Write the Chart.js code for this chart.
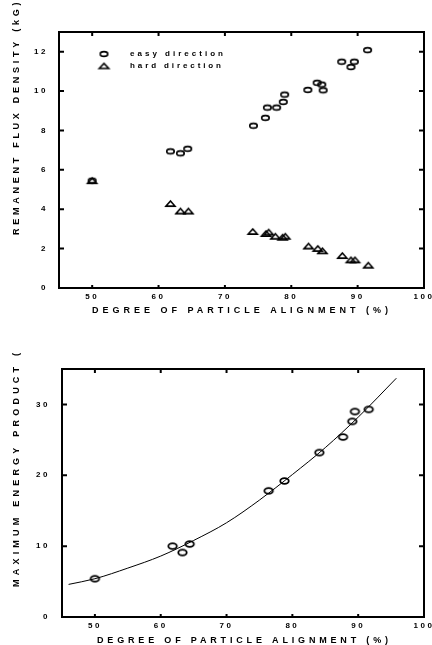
<!DOCTYPE html>
<html>
<head>
<meta charset="utf-8">
<script src="https://cdn.jsdelivr.net/npm/chart.js@4.4.0/dist/chart.umd.min.js"></script>
<style>
  html, body { margin: 0; padding: 0; background: #fff; }
  .wrap { position: relative; width: 432px; }
</style>
</head>
<body>
<div class="wrap" style="height:320px"><canvas id="remanence"></canvas></div>
<div class="wrap" style="height:325px"><canvas id="energy"></canvas></div>
<script>
// remanent flux density (kG) vs alignment (%)
var alignEasy = [50, 61.8, 63.3, 64.4, 74.3, 76.1, 76.4, 77.8, 78.8, 79.0, 82.5, 83.9, 84.6, 84.8, 87.6, 89.0, 89.5, 91.5];
var fluxEasy  = [5.45, 6.94, 6.84, 7.07, 8.24, 8.64, 9.16, 9.16, 9.45, 9.82, 10.06, 10.42, 10.33, 10.04, 11.49, 11.22, 11.49, 12.08];
var alignHard = [50, 61.8, 63.3, 64.5, 74.2, 76.2, 76.6, 77.6, 78.7, 79.1, 82.6, 84.0, 84.7, 87.7, 89.0, 89.6, 91.6];
var fluxHard  = [5.45, 4.29, 3.91, 3.91, 2.87, 2.77, 2.84, 2.63, 2.58, 2.63, 2.13, 2.01, 1.89, 1.65, 1.43, 1.43, 1.16];

// max energy product vs alignment, plus the hand drawn fit curve
var alignBH  = [50, 61.8, 63.3, 64.4, 76.4, 78.8, 84.1, 87.7, 89.1, 89.5, 91.6];
var energyBH = [5.4, 10.0, 9.1, 10.3, 17.8, 19.2, 23.2, 25.4, 27.6, 29.0, 29.3];
var fitAlign  = [46, 50, 55, 60, 65, 70, 75, 80, 85, 90, 95.8];
var fitEnergy = [4.6, 5.4, 6.9, 8.6, 10.8, 13.3, 16.5, 20.1, 23.9, 28.2, 33.7];

var xTicks = [50, 60, 70, 80, 90, 100];
var fluxTicks = [0, 2, 4, 6, 8, 10, 12];
var energyTicks = [0, 10, 20, 30];

var FONT = '"Liberation Sans", Arial, sans-serif';

function pairs(xs, ys) {
    return xs.map(function (x, i) { return { x: x, y: ys[i] }; });
}

// little open markers (the originals are squashed ovals / wide triangles)
function ovalMark(w, h, lw) {
    var c = document.createElement('canvas');
    c.width = Math.ceil(w + lw * 2 + 2);
    c.height = Math.ceil(h + lw * 2 + 2);
    var g = c.getContext('2d');
    g.lineWidth = lw;
    g.strokeStyle = '#000';
    g.beginPath();
    g.ellipse(c.width / 2, c.height / 2, w / 2, h / 2, 0, 0, Math.PI * 2);
    g.stroke();
    return c;
}

function triMark(w, h, lw) {
    var c = document.createElement('canvas');
    c.width = Math.ceil(w + lw * 2 + 2);
    c.height = Math.ceil(h + lw * 2 + 2);
    var g = c.getContext('2d');
    var cx = c.width / 2, cy = c.height / 2;
    g.lineWidth = lw;
    g.lineJoin = 'miter';
    g.strokeStyle = '#000';
    g.beginPath();
    g.moveTo(cx - w / 2, cy + h / 2);
    g.lineTo(cx, cy - h / 2);
    g.lineTo(cx + w / 2, cy + h / 2);
    g.closePath();
    g.stroke();
    return c;
}

var ovalSmall = ovalMark(7.5, 4.8, 1.6);
var triSmall = triMark(9, 5.2, 1.6);
var ovalBig = ovalMark(8.5, 5.8, 1.8);

// draw text with letter spacing so that `fitPart` covers the span from a to b
function spacedText(ctx, text, fitPart, a, b, font) {
    ctx.font = font;
    ctx.letterSpacing = '0px';
    var w = ctx.measureText(fitPart).width;
    var sp = ((b - a) - w) / (fitPart.length - 1);
    ctx.letterSpacing = sp + 'px';
    ctx.textAlign = 'left';
    ctx.textBaseline = 'middle';
    ctx.fillText(text, a, 0);
}

// box around the plot with inward tick marks on all four sides
var framePlugin = {
    id: 'frame',
    beforeDraw: function (chart) {
        chart.ctx.letterSpacing = '2.5px';
    },
    beforeDatasetsDraw: function (chart) {
        var ctx = chart.ctx, a = chart.chartArea;
        var xs = chart.scales.x, ys = chart.scales.y;
        ctx.save();
        ctx.strokeStyle = '#000';
        ctx.lineWidth = 2;
        ctx.strokeRect(a.left, a.top, a.right - a.left, a.bottom - a.top);
        ctx.beginPath();
        xs.ticks.forEach(function (t) {
            var px = xs.getPixelForValue(t.value);
            ctx.moveTo(px, a.top); ctx.lineTo(px, a.top + 4);
            ctx.moveTo(px, a.bottom); ctx.lineTo(px, a.bottom - 3);
        });
        ys.ticks.forEach(function (t) {
            var py = ys.getPixelForValue(t.value);
            ctx.moveTo(a.left, py); ctx.lineTo(a.left + 5, py);
            ctx.moveTo(a.right, py); ctx.lineTo(a.right - 5, py);
        });
        ctx.stroke();
        ctx.restore();
    }
};

// spaced-out axis titles, like the typewriter lettering of the original
var titlePlugin = {
    id: 'titles',
    afterDraw: function (chart, args, opts) {
        var ctx = chart.ctx;
        var font = 'bold 9px ' + FONT;
        ctx.save();
        ctx.fillStyle = '#000';
        ctx.translate(0, opts.xTitleY);
        spacedText(ctx, opts.xTitle, opts.xTitle, opts.xTitleFrom, opts.xTitleTo, font);
        ctx.restore();

        ctx.save();
        ctx.beginPath();
        ctx.rect(0, opts.yClipTop, 30, chart.height);
        ctx.clip();
        ctx.fillStyle = '#000';
        ctx.translate(opts.yTitleX, 0);
        ctx.rotate(-Math.PI / 2);
        spacedText(ctx, opts.yTitle, opts.yTitleFit, -opts.yTitleFrom, -opts.yTitleTo, font);
        ctx.restore();
    }
};

// legend inside the plot, top left
var keyPlugin = {
    id: 'key',
    afterDatasetsDraw: function (chart, args, opts) {
        if (!opts.show) return;
        var ctx = chart.ctx;
        chart.data.datasets.forEach(function (ds, i) {
            var y = opts.top + i * opts.step;
            var img = opts.marks[i];
            ctx.drawImage(img, opts.markX - img.width / 2, y - img.height / 2);
            ctx.save();
            ctx.fillStyle = '#000';
            ctx.translate(0, y);
            spacedText(ctx, ds.label, ds.label, opts.textX, opts.textX + opts.textW[i], 'bold 8px ' + FONT);
            ctx.restore();
        });
    }
};

function axisTicks(list) {
    return function (scale) {
        scale.ticks = list.map(function (v) { return { value: v }; });
    };
}

var tickFont = { family: FONT, size: 8, weight: 'bold' };

function xScale() {
    return {
        type: 'linear',
        min: 45,
        max: 100,
        afterBuildTicks: axisTicks(xTicks),
        afterFit: function (s) { s.height = 12; s.paddingLeft = 0; s.paddingRight = 0; },
        grid: { display: false, drawTicks: false },
        border: { display: false },
        ticks: { color: '#000', font: tickFont, padding: 4, maxRotation: 0 }
    };
}

function yScale(max, list, width, pad) {
    return {
        type: 'linear',
        min: 0,
        max: max,
        afterBuildTicks: axisTicks(list),
        afterFit: function (s) { s.width = width; s.paddingTop = 0; s.paddingBottom = 0; },
        grid: { display: false, drawTicks: false },
        border: { display: false },
        ticks: { color: '#000', font: tickFont, padding: pad }
    };
}

new Chart(document.getElementById('remanence'), {
    type: 'scatter',
    data: {
        datasets: [
            {
                label: 'easy direction',
                data: pairs(alignEasy, fluxEasy),
                pointStyle: ovalSmall,
                pointRadius: 4
            },
            {
                label: 'hard direction',
                data: pairs(alignHard, fluxHard),
                pointStyle: triSmall,
                pointRadius: 4
            }
        ]
    },
    options: {
        responsive: true,
        maintainAspectRatio: false,
        animation: false,
        layout: { padding: { left: 26, top: 32, right: 8, bottom: 20 } },
        scales: {
            x: xScale(),
            y: yScale(13, fluxTicks, 33, 11)
        },
        plugins: {
            legend: { display: false },
            tooltip: { enabled: false },
            titles: {
                xTitle: 'DEGREE OF PARTICLE ALIGNMENT (%)',
                xTitleY: 311, xTitleFrom: 92, xTitleTo: 388,
                yTitle: 'REMANENT FLUX DENSITY (kG)',
                yTitleFit: 'REMANENT FLUX DENSITY (k',
                yTitleX: 17, yTitleFrom: 235, yTitleTo: 20, yClipTop: 0
            },
            key: {
                show: true,
                marks: [ovalSmall, triMark(9.5, 5, 1.6)],
                markX: 104, top: 54, step: 12,
                textX: 130, textW: [93, 91]
            }
        }
    },
    plugins: [framePlugin, titlePlugin, keyPlugin]
});

new Chart(document.getElementById('energy'), {
    type: 'scatter',
    data: {
        datasets: [
            {
                label: 'measured',
                data: pairs(alignBH, energyBH),
                pointStyle: ovalBig,
                pointRadius: 4
            },
            {
                type: 'line',
                label: 'fit',
                data: pairs(fitAlign, fitEnergy),
                showLine: true,
                borderColor: '#000',
                borderWidth: 1,
                pointRadius: 0,
                cubicInterpolationMode: 'monotone',
                fill: false
            }
        ]
    },
    options: {
        responsive: true,
        maintainAspectRatio: false,
        animation: false,
        layout: { padding: { left: 28, top: 49, right: 8, bottom: 16 } },
        scales: {
            x: xScale(),
            y: yScale(35, energyTicks, 34, 12)
        },
        plugins: {
            legend: { display: false },
            tooltip: { enabled: false },
            titles: {
                xTitle: 'DEGREE OF PARTICLE ALIGNMENT (%)',
                xTitleY: 320.5, xTitleFrom: 97, xTitleTo: 388,
                yTitle: 'MAXIMUM ENERGY PRODUCT (MGOe)',
                yTitleFit: 'MAXIMUM ENERGY PRODUCT (',
                yTitleX: 17, yTitleFrom: 267, yTitleTo: 33, yClipTop: 29
            },
            key: { show: false }
        }
    },
    plugins: [framePlugin, titlePlugin, keyPlugin]
});
</script>
</body>
</html>
